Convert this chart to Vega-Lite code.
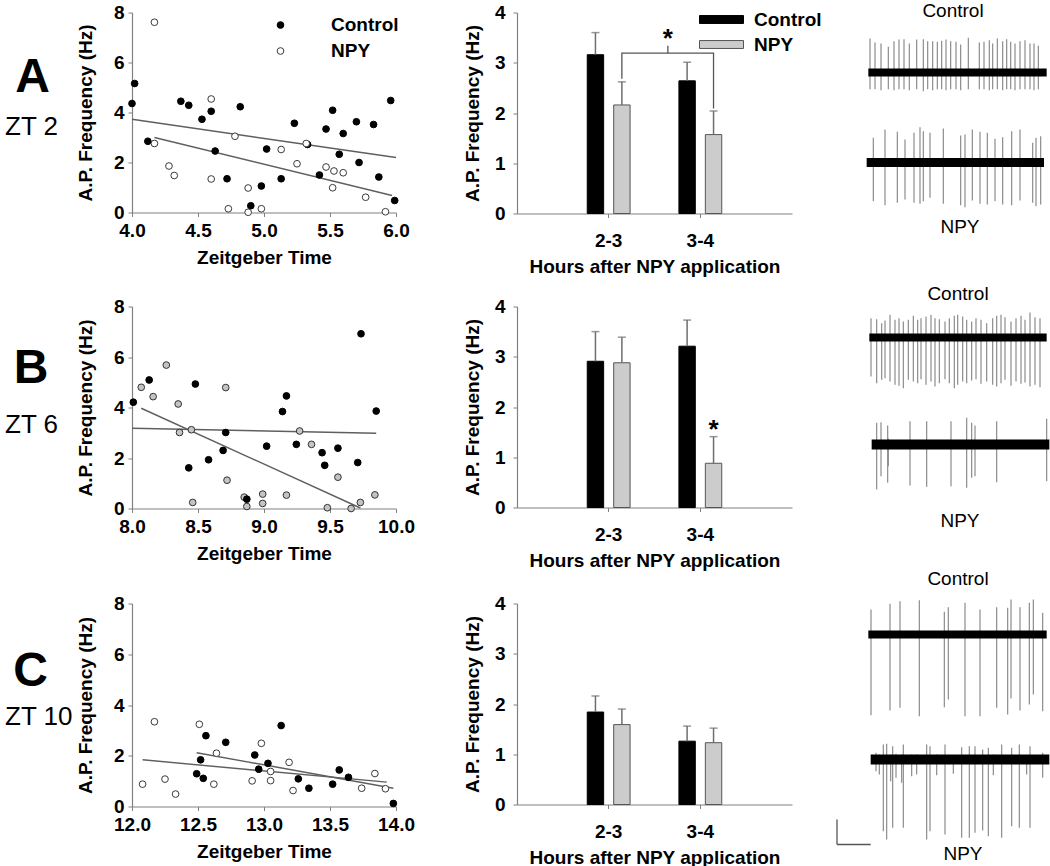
{
"$schema":"https://vega.github.io/schema/vega-lite/v6.json",
"background":"white",
"padding":{"left":5,"top":1.5,"right":0,"bottom":0},
"config":{"font":"Liberation Sans","view":{"stroke":null},
"axis":{"domainColor":"#808080","tickColor":"#808080","tickSize":4,"domainWidth":1.2,"labelFontSize":19,"titleFontSize":19,"labelFontWeight":"bold","titleFontWeight":"bold","labelColor":"#000","titleColor":"#000","grid":false,"labelFlush":false,"labelOverlap":false},
"legend":{"labelFontSize":19,"labelFontWeight":"bold","labelColor":"#000"}},
"datasets":{
"scA":[{"t":4.00,"f":4.36,"g":"Control"},{"t":4.02,"f":5.16,"g":"Control"},{"t":4.12,"f":2.85,"g":"Control"},{"t":4.37,"f":4.45,"g":"Control"},{"t":4.43,"f":4.29,"g":"Control"},{"t":4.53,"f":3.73,"g":"Control"},{"t":4.60,"f":4.05,"g":"Control"},{"t":4.63,"f":2.46,"g":"Control"},{"t":4.72,"f":1.35,"g":"Control"},{"t":4.82,"f":4.23,"g":"Control"},{"t":4.90,"f":0.27,"g":"Control"},{"t":4.98,"f":1.06,"g":"Control"},{"t":5.02,"f":2.54,"g":"Control"},{"t":5.13,"f":1.35,"g":"Control"},{"t":5.23,"f":3.57,"g":"Control"},{"t":5.33,"f":2.72,"g":"Control"},{"t":5.42,"f":1.50,"g":"Control"},{"t":5.47,"f":3.34,"g":"Control"},{"t":5.52,"f":4.09,"g":"Control"},{"t":5.57,"f":2.33,"g":"Control"},{"t":5.60,"f":3.16,"g":"Control"},{"t":5.70,"f":3.63,"g":"Control"},{"t":5.72,"f":2.00,"g":"Control"},{"t":5.83,"f":3.52,"g":"Control"},{"t":5.87,"f":1.42,"g":"Control"},{"t":5.96,"f":4.48,"g":"Control"},{"t":5.99,"f":0.48,"g":"Control"},
{"t":4.17,"f":7.61,"g":"NPY"},{"t":4.17,"f":2.76,"g":"NPY"},{"t":4.28,"f":1.86,"g":"NPY"},{"t":4.32,"f":1.48,"g":"NPY"},{"t":4.60,"f":4.54,"g":"NPY"},{"t":4.60,"f":1.34,"g":"NPY"},{"t":4.73,"f":0.15,"g":"NPY"},{"t":4.78,"f":3.05,"g":"NPY"},{"t":4.88,"f":0.98,"g":"NPY"},{"t":4.88,"f":0.01,"g":"NPY"},{"t":4.98,"f":0.15,"g":"NPY"},{"t":5.13,"f":2.52,"g":"NPY"},{"t":5.25,"f":1.95,"g":"NPY"},{"t":5.32,"f":2.76,"g":"NPY"},{"t":5.47,"f":1.82,"g":"NPY"},{"t":5.53,"f":1.66,"g":"NPY"},{"t":5.60,"f":1.59,"g":"NPY"},{"t":5.52,"f":0.99,"g":"NPY"},{"t":5.77,"f":0.61,"g":"NPY"},{"t":5.92,"f":0.03,"g":"NPY"}],
"lnA":[{"t":4.0,"f":3.73,"g":"Control"},{"t":6.0,"f":2.2,"g":"Control"},{"t":4.17,"f":3.0,"g":"NPY"},{"t":5.97,"f":0.68,"g":"NPY"}],
"scB":[{"t":8.01,"f":4.21,"g":"Control"},{"t":8.13,"f":5.09,"g":"Control"},{"t":8.43,"f":1.61,"g":"Control"},{"t":8.48,"f":4.93,"g":"Control"},{"t":8.58,"f":1.93,"g":"Control"},{"t":8.69,"f":2.30,"g":"Control"},{"t":8.71,"f":3.01,"g":"Control"},{"t":9.02,"f":2.47,"g":"Control"},{"t":9.14,"f":3.84,"g":"Control"},{"t":9.17,"f":4.46,"g":"Control"},{"t":9.245,"f":2.54,"g":"Control"},{"t":9.44,"f":2.21,"g":"Control"},{"t":9.46,"f":1.71,"g":"Control"},{"t":9.56,"f":2.39,"g":"Control"},{"t":9.71,"f":1.82,"g":"Control"},{"t":9.735,"f":6.92,"g":"Control"},{"t":9.85,"f":3.86,"g":"Control"},
{"t":8.07,"f":4.80,"g":"NPY"},{"t":8.16,"f":4.43,"g":"NPY"},{"t":8.26,"f":5.68,"g":"NPY"},{"t":8.35,"f":4.14,"g":"NPY"},{"t":8.36,"f":3.01,"g":"NPY"},{"t":8.45,"f":3.12,"g":"NPY"},{"t":8.46,"f":0.24,"g":"NPY"},{"t":8.71,"f":4.79,"g":"NPY"},{"t":8.72,"f":1.12,"g":"NPY"},{"t":8.85,"f":0.45,"g":"NPY"},{"t":8.87,"f":0.08,"g":"NPY"},{"t":8.99,"f":0.57,"g":"NPY"},{"t":8.99,"f":0.20,"g":"NPY"},{"t":9.17,"f":0.53,"g":"NPY"},{"t":9.27,"f":3.07,"g":"NPY"},{"t":9.36,"f":2.54,"g":"NPY"},{"t":9.48,"f":0.03,"g":"NPY"},{"t":9.56,"f":1.24,"g":"NPY"},{"t":9.66,"f":0.0,"g":"NPY"},{"t":9.73,"f":0.24,"g":"NPY"},{"t":9.84,"f":0.54,"g":"NPY"},{"t":8.87,"f":0.37,"g":"Control"}],
"lnB":[{"t":8.0,"f":3.18,"g":"Control"},{"t":9.85,"f":2.98,"g":"Control"},{"t":8.07,"f":3.97,"g":"NPY"},{"t":9.73,"f":0.02,"g":"NPY"}],
"scC":[{"t":12.49,"f":1.29,"g":"Control"},{"t":12.52,"f":1.84,"g":"Control"},{"t":12.54,"f":1.11,"g":"Control"},{"t":12.56,"f":2.79,"g":"Control"},{"t":12.71,"f":2.53,"g":"Control"},{"t":12.93,"f":2.03,"g":"Control"},{"t":12.96,"f":1.47,"g":"Control"},{"t":13.03,"f":1.70,"g":"Control"},{"t":13.13,"f":3.19,"g":"Control"},{"t":13.26,"f":1.09,"g":"Control"},{"t":13.34,"f":0.72,"g":"Control"},{"t":13.52,"f":0.88,"g":"Control"},{"t":13.57,"f":1.44,"g":"Control"},{"t":13.64,"f":1.15,"g":"Control"},{"t":13.98,"f":0.12,"g":"Control"},
{"t":12.08,"f":0.88,"g":"NPY"},{"t":12.17,"f":3.34,"g":"NPY"},{"t":12.25,"f":1.08,"g":"NPY"},{"t":12.33,"f":0.49,"g":"NPY"},{"t":12.51,"f":3.24,"g":"NPY"},{"t":12.62,"f":0.88,"g":"NPY"},{"t":12.64,"f":2.10,"g":"NPY"},{"t":12.91,"f":1.01,"g":"NPY"},{"t":12.98,"f":2.49,"g":"NPY"},{"t":13.05,"f":1.38,"g":"NPY"},{"t":13.05,"f":1.02,"g":"NPY"},{"t":13.19,"f":1.74,"g":"NPY"},{"t":13.22,"f":0.63,"g":"NPY"},{"t":13.74,"f":0.72,"g":"NPY"},{"t":13.84,"f":1.30,"g":"NPY"},{"t":13.92,"f":0.70,"g":"NPY"}],
"lnC":[{"t":12.49,"f":2.12,"g":"Control"},{"t":13.98,"f":0.72,"g":"Control"},{"t":12.08,"f":1.84,"g":"NPY"},{"t":13.93,"f":0.96,"g":"NPY"}],
"barA":[{"h":"2-3","g":"Control","m":3.16,"hi":3.60},{"h":"2-3","g":"NPY","m":2.16,"hi":2.62},{"h":"3-4","g":"Control","m":2.64,"hi":3.01},{"h":"3-4","g":"NPY","m":1.57,"hi":2.04}],
"barB":[{"h":"2-3","g":"Control","m":2.91,"hi":3.50},{"h":"2-3","g":"NPY","m":2.88,"hi":3.39},{"h":"3-4","g":"Control","m":3.21,"hi":3.73},{"h":"3-4","g":"NPY","m":0.88,"hi":1.41}],
"barC":[{"h":"2-3","g":"Control","m":1.84,"hi":2.16},{"h":"2-3","g":"NPY","m":1.59,"hi":1.90},{"h":"3-4","g":"Control","m":1.26,"hi":1.56},{"h":"3-4","g":"NPY","m":1.23,"hi":1.52}],
"brA":[{"h":"2-3","y":2.68,"o":1},{"h":"2-3","y":3.19,"o":2},{"h":"3-4","y":3.19,"o":3},{"h":"3-4","y":2.09,"o":4}],
"tAc":[{"t":150,"top":34,"bot":-16.7},{"t":165,"top":30,"bot":-16.7},{"t":183,"top":29,"bot":-17.7},{"t":205,"top":25.7,"bot":-16.7},{"t":222,"top":31.3,"bot":-17.7},{"t":237,"top":33,"bot":-16.7},{"t":252,"top":33.3,"bot":-16.7},{"t":268,"top":29,"bot":-17.7},{"t":290,"top":33,"bot":-16.7},{"t":310,"top":33.3,"bot":-18.7},{"t":323,"top":31.3,"bot":-16.7},{"t":338,"top":31.3,"bot":-17.7},{"t":352,"top":30.7,"bot":-16.7},{"t":365,"top":31.7,"bot":-16.7},{"t":378,"top":33,"bot":-17.7},{"t":392,"top":31.3,"bot":-16.7},{"t":408,"top":30.7,"bot":-16.7},{"t":422,"top":28,"bot":-17.7},{"t":445,"top":34.7,"bot":-16.7},{"t":478,"top":30,"bot":-16.7},{"t":492,"top":30.7,"bot":-16.7},{"t":508,"top":32.3,"bot":-17.7},{"t":518,"top":29,"bot":-16.7},{"t":532,"top":34,"bot":-16.7},{"t":548,"top":31.3,"bot":-17.7},{"t":560,"top":33.3,"bot":-16.7},{"t":572,"top":30.7,"bot":-16.7},{"t":585,"top":29,"bot":-17.7},{"t":600,"top":31.3,"bot":-16.7},{"t":615,"top":32.3,"bot":-16.7},{"t":630,"top":29,"bot":-16.7},{"t":642,"top":29,"bot":-17.7},{"t":655,"top":26.7,"bot":-16.7}],
"tAn":[{"t":160,"top":24.7,"bot":-38.7},{"t":195,"top":33,"bot":-42.7},{"t":232,"top":30.7,"bot":-40.3},{"t":255,"top":23,"bot":-37},{"t":282,"top":29.7,"bot":-40.3},{"t":300,"top":35.3,"bot":-41.3},{"t":310,"top":31.3,"bot":-38.7},{"t":330,"top":29.7,"bot":-35.3},{"t":370,"top":34,"bot":-41.3},{"t":422,"top":27,"bot":-42.7},{"t":435,"top":28,"bot":-44.7},{"t":457,"top":33,"bot":-38},{"t":480,"top":30.7,"bot":-41.3},{"t":502,"top":29.7,"bot":-42},{"t":525,"top":23.7,"bot":-38.7},{"t":548,"top":25.3,"bot":-42},{"t":575,"top":31.3,"bot":-42.7},{"t":600,"top":33,"bot":-38},{"t":638,"top":19.7,"bot":-40.3},{"t":648,"top":24.7,"bot":-43.7},{"t":662,"top":26.3,"bot":-42}],
"tBc":[{"t":153,"top":19.3,"bot":-39},{"t":170,"top":18.3,"bot":-45.7},{"t":185,"top":14.3,"bot":-42.3},{"t":195,"top":17,"bot":-40.7},{"t":210,"top":22.7,"bot":-44},{"t":225,"top":17.7,"bot":-47.3},{"t":237,"top":19.3,"bot":-48.3},{"t":250,"top":16,"bot":-50.7},{"t":265,"top":17.7,"bot":-42.3},{"t":280,"top":21.7,"bot":-44},{"t":293,"top":17.7,"bot":-45.7},{"t":303,"top":19.3,"bot":-41.7},{"t":318,"top":21,"bot":-47.3},{"t":333,"top":22.7,"bot":-44},{"t":345,"top":19.3,"bot":-49},{"t":358,"top":18.3,"bot":-45.7},{"t":375,"top":16,"bot":-41.7},{"t":388,"top":19.3,"bot":-45.7},{"t":403,"top":21.7,"bot":-50.7},{"t":413,"top":22.7,"bot":-47.3},{"t":428,"top":21,"bot":-44},{"t":440,"top":17.7,"bot":-45.7},{"t":455,"top":16,"bot":-43},{"t":468,"top":19.3,"bot":-41.7},{"t":483,"top":17.7,"bot":-46.3},{"t":500,"top":14.3,"bot":-44},{"t":518,"top":19.3,"bot":-47.3},{"t":530,"top":21.7,"bot":-49},{"t":543,"top":22.7,"bot":-45.7},{"t":555,"top":20.3,"bot":-42.3},{"t":573,"top":16,"bot":-48.3},{"t":588,"top":19.3,"bot":-44},{"t":603,"top":21.7,"bot":-46.3},{"t":615,"top":17.7,"bot":-45},{"t":630,"top":25,"bot":-49},{"t":645,"top":20.3,"bot":-47.3},{"t":660,"top":19.3,"bot":-49.7}],
"tBn":[{"t":170,"top":21.7,"bot":-45},{"t":183,"top":22.3,"bot":-31.7},{"t":203,"top":19,"bot":-38.3},{"t":205,"top":6,"bot":-21.7},{"t":270,"top":23.3,"bot":-41},{"t":320,"top":23.3,"bot":-42.3},{"t":393,"top":23.3,"bot":-41.7},{"t":440,"top":26.7,"bot":-43.3},{"t":455,"top":21.7,"bot":-33.3},{"t":465,"top":19,"bot":-31.7},{"t":530,"top":23.3,"bot":-37.7},{"t":680,"top":25.7,"bot":-36.7}],
"tCc":[{"t":153,"top":25,"bot":-80.7},{"t":210,"top":30.7,"bot":-76},{"t":240,"top":33.3,"bot":-73.3},{"t":298,"top":34.3,"bot":-81.7},{"t":373,"top":22.7,"bot":-72.7},{"t":385,"top":27.3,"bot":-65},{"t":435,"top":31.7,"bot":-81.7},{"t":480,"top":25,"bot":-81.7},{"t":530,"top":27.3,"bot":-73.3},{"t":563,"top":26.7,"bot":-80},{"t":573,"top":35,"bot":-64},{"t":600,"top":27.3,"bot":-76},{"t":628,"top":31.7,"bot":-70},{"t":640,"top":35,"bot":-60},{"t":668,"top":21.7,"bot":-76.7}],
"tCn":[{"t":168,"top":6.7,"bot":-11.7},{"t":190,"top":15,"bot":-71.7},{"t":200,"top":15.7,"bot":-80},{"t":218,"top":13.3,"bot":-68.3},{"t":250,"top":15,"bot":-68.3},{"t":320,"top":15,"bot":-80},{"t":330,"top":13.3,"bot":-71.7},{"t":375,"top":15,"bot":-75},{"t":425,"top":12.3,"bot":-78.3},{"t":448,"top":13.3,"bot":-78.3},{"t":465,"top":13.3,"bot":-73.3},{"t":488,"top":10,"bot":-71},{"t":505,"top":11.7,"bot":-76.7},{"t":545,"top":15,"bot":-78.3},{"t":575,"top":11.7,"bot":-66.7},{"t":598,"top":15,"bot":-68.3},{"t":630,"top":13.3,"bot":-68.3},{"t":668,"top":6.7,"bot":-18.3},{"t":178,"top":5,"bot":-15},{"t":212,"top":5,"bot":-21.7},{"t":228,"top":5.7,"bot":-18.3},{"t":245,"top":5,"bot":-23.3},{"t":275,"top":5,"bot":-16.7},{"t":290,"top":5,"bot":-15},{"t":350,"top":5,"bot":-15.7},{"t":400,"top":4.3,"bot":-14.3},{"t":520,"top":5,"bot":-15.7},{"t":620,"top":4.3,"bot":-15}]
},
"columns":4,"bounds":"flush","align":"each","spacing":{"row":93,"column":28},
"resolve":{"scale":{"fill":"independent","stroke":"independent","xOffset":"independent"},"legend":{"fill":"independent","stroke":"independent"}},
"concat":[
 {"width":264,"height":200,
  "layer":[
   {"data":{"name":"lnA"},"mark":{"type":"line","color":"#5f5f5f","strokeWidth":1.4},"encoding":{"x":{"field":"t","type":"quantitative","scale":{"domain":[4,6],"nice":false,"zero":false}},"y":{"field":"f","type":"quantitative","scale":{"domain":[0,8],"nice":false}},"detail":{"field":"g","type":"nominal"}}},
   {"data":{"name":"scA"},"mark":{"type":"circle","size":45,"strokeWidth":1,"opacity":1},
    "encoding":{"x":{"field":"t","type":"quantitative","scale":{"domain":[4,6],"nice":false,"zero":false},"axis":{"title":"Zeitgeber Time","values":[4,4.5,5,5.5,6],"format":".1f","labelPadding":5,"titlePadding":8}},
     "y":{"field":"f","type":"quantitative","scale":{"domain":[0,8],"nice":false},"axis":{"title":"A.P. Frequency (Hz)","values":[0,2,4,6,8],"format":"d","labelPadding":4,"titlePadding":18}},
     "fill":{"field":"g","type":"nominal","scale":{"domain":["Control","NPY"],"range":["#000000","#ffffff"]},"legend":{"title":null,"orient":"none","legendX":139,"legendY":3,"symbolType":"circle","symbolSize":45,"symbolStrokeWidth":1,"labelOffset":41,"rowPadding":6,"padding":0}},
     "stroke":{"field":"g","type":"nominal","scale":{"domain":["Control","NPY"],"range":["#000000","#3a3a3a"]},"legend":{"title":null,"orient":"none","legendX":139,"legendY":3,"symbolType":"circle","symbolSize":45,"symbolStrokeWidth":1,"labelOffset":41,"rowPadding":6,"padding":0}}}},
   {"data":{"values":[{"s":"A"}]},"mark":{"type":"text","fontSize":48,"fontWeight":"bold","align":"center","baseline":"middle"},"encoding":{"x":{"datum":3.246},"y":{"datum":5.4},"text":{"field":"s"}}},
   {"data":{"values":[{"s":"ZT 2"}]},"mark":{"type":"text","fontSize":26,"align":"left","baseline":"middle"},"encoding":{"x":{"datum":3.038},"y":{"datum":3.44},"text":{"field":"s"}}}
  ]},
 {"width":65,"height":1,"data":{"values":[{}]},"mark":{"type":"point","opacity":0},"encoding":{}},
 {"width":275,"height":201,"data":{"name":"barA"},
  "layer":[
   {"mark":{"type":"bar","strokeWidth":1},"encoding":{"x":{"field":"h","type":"nominal","scale":{"domain":["2-3","3-4"],"paddingInner":0.4,"paddingOuter":0.7},"axis":{"title":"Hours after NPY application","labelAngle":0,"labelPadding":14,"titlePadding":7}},
     "y":{"field":"m","type":"quantitative","scale":{"domain":[0,4],"nice":false},"axis":{"title":"A.P. Frequency (Hz)","values":[0,1,2,3,4],"format":"d","labelPadding":8,"titlePadding":12}},
     "xOffset":{"field":"g","type":"nominal","scale":{"domain":["Control","NPY"],"paddingInner":0.38,"paddingOuter":0.23}},
     "fill":{"field":"g","type":"nominal","scale":{"domain":["Control","NPY"],"range":["#000000","#cccccc"]},"legend":{"title":null,"orient":"none","legendX":182,"legendY":-5.5,"symbolType":"M-1,-0.18H1V0.18H-1Z","symbolSize":1936,"symbolStrokeWidth":1,"labelOffset":10,"rowPadding":0,"clipHeight":25,"padding":0}},
     "stroke":{"field":"g","type":"nominal","scale":{"domain":["Control","NPY"],"range":["#000000","#555555"]},"legend":{"title":null,"orient":"none","legendX":182,"legendY":-5.5,"symbolType":"M-1,-0.18H1V0.18H-1Z","symbolSize":1936,"symbolStrokeWidth":1,"labelOffset":10,"rowPadding":0,"clipHeight":25,"padding":0}}}},
   {"mark":{"type":"rule","color":"#6e6e6e","strokeWidth":1.5},"encoding":{"x":{"field":"h","type":"nominal"},"xOffset":{"field":"g","type":"nominal"},"y":{"field":"m","type":"quantitative"},"y2":{"field":"hi"}}},
   {"mark":{"type":"tick","color":"#6e6e6e","thickness":1.5,"size":8},"encoding":{"x":{"field":"h","type":"nominal"},"xOffset":{"field":"g","type":"nominal"},"y":{"field":"hi","type":"quantitative"}}},
   {"data":{"name":"brA"},"mark":{"type":"line","color":"#555555","strokeWidth":1.3},"encoding":{"x":{"field":"h","type":"nominal","bandPosition":0.74},"y":{"field":"y","type":"quantitative"},"order":{"field":"o","type":"quantitative"}}},
   {"data":{"values":[{}]},"mark":{"type":"rule","color":"#555555","strokeWidth":1.3},"encoding":{"x":{"datum":"3-4","bandPosition":-0.09},"y":{"datum":3.19},"y2":{"datum":3.34}}},
   {"data":{"values":[{"s":"*"}]},"mark":{"type":"text","fontSize":26,"fontWeight":"bold","align":"center","baseline":"middle","dy":3},"encoding":{"x":{"datum":"3-4","bandPosition":-0.09},"y":{"datum":3.53},"text":{"field":"s"}}}
  ]},
 {"width":230,"height":201,"resolve":{"scale":{"y":"independent"}},
  "layer":[
   {"layer":[
     {"data":{"name":"tAc"},"mark":{"type":"rule","color":"#8c8c8c","strokeWidth":1.2},"encoding":{"x":{"field":"t","type":"quantitative","scale":{"domain":[0,690],"nice":false,"zero":false},"axis":null},"y":{"field":"top","type":"quantitative","scale":{"domain":[-141,60],"nice":false,"zero":false},"axis":null},"y2":{"field":"bot"}}},
     {"data":{"values":[{"t":145,"t1":680}]},"mark":{"type":"rule","color":"#000000","strokeWidth":8,"strokeCap":"butt"},"encoding":{"x":{"field":"t","type":"quantitative","axis":null},"x2":{"field":"t1"},"y":{"datum":0,"axis":null}}},
     {"data":{"values":[{"s":"Control"}]},"mark":{"type":"text","fontSize":19,"baseline":"middle","align":"center"},"encoding":{"x":{"datum":399,"axis":null},"y":{"datum":62,"axis":null},"text":{"field":"s"}}}
   ]},
   {"layer":[
     {"data":{"name":"tAn"},"mark":{"type":"rule","color":"#8c8c8c","strokeWidth":1.2},"encoding":{"x":{"field":"t","type":"quantitative","axis":null},"y":{"field":"top","type":"quantitative","scale":{"domain":[-51,150],"nice":false,"zero":false},"axis":null},"y2":{"field":"bot"}}},
     {"data":{"values":[{"t":140,"t1":672}]},"mark":{"type":"rule","color":"#000000","strokeWidth":9,"strokeCap":"butt"},"encoding":{"x":{"field":"t","type":"quantitative","axis":null},"x2":{"field":"t1"},"y":{"datum":0,"axis":null}}},
     {"data":{"values":[{"s":"NPY"}]},"mark":{"type":"text","fontSize":19,"baseline":"middle","align":"center"},"encoding":{"x":{"datum":420,"axis":null},"y":{"datum":-64,"axis":null},"text":{"field":"s"}}}
   ]}
  ]},
 {"width":264,"height":202,
  "layer":[
   {"data":{"name":"lnB"},"mark":{"type":"line","color":"#5f5f5f","strokeWidth":1.4},"encoding":{"x":{"field":"t","type":"quantitative","scale":{"domain":[8,10],"nice":false,"zero":false}},"y":{"field":"f","type":"quantitative","scale":{"domain":[0,8],"nice":false}},"detail":{"field":"g","type":"nominal"}}},
   {"data":{"name":"scB"},"mark":{"type":"circle","size":45,"strokeWidth":1,"opacity":1},
    "encoding":{"x":{"field":"t","type":"quantitative","scale":{"domain":[8,10],"nice":false,"zero":false},"axis":{"title":"Zeitgeber Time","values":[8,8.5,9,9.5,10],"format":".1f","labelPadding":5,"titlePadding":8}},
     "y":{"field":"f","type":"quantitative","scale":{"domain":[0,8],"nice":false},"axis":{"title":"A.P. Frequency (Hz)","values":[0,2,4,6,8],"format":"d","labelPadding":4,"titlePadding":18}},
     "fill":{"field":"g","type":"nominal","scale":{"domain":["Control","NPY"],"range":["#000000","#c4c4c4"]},"legend":null},
     "stroke":{"field":"g","type":"nominal","scale":{"domain":["Control","NPY"],"range":["#000000","#333333"]},"legend":null}}},
   {"data":{"values":[{"s":"B"}]},"mark":{"type":"text","fontSize":48,"fontWeight":"bold","align":"center","baseline":"middle"},"encoding":{"x":{"datum":7.235},"y":{"datum":5.54},"text":{"field":"s"}}},
   {"data":{"values":[{"s":"ZT 6"}]},"mark":{"type":"text","fontSize":26,"align":"left","baseline":"middle"},"encoding":{"x":{"datum":7.038},"y":{"datum":3.29},"text":{"field":"s"}}}
  ]},
 {"width":65,"height":1,"data":{"values":[{}]},"mark":{"type":"point","opacity":0},"encoding":{}},
 {"width":275,"height":201,"data":{"name":"barB"},
  "layer":[
   {"mark":{"type":"bar","strokeWidth":1},"encoding":{"x":{"field":"h","type":"nominal","scale":{"domain":["2-3","3-4"],"paddingInner":0.4,"paddingOuter":0.7},"axis":{"title":"Hours after NPY application","labelAngle":0,"labelPadding":14,"titlePadding":7}},
     "y":{"field":"m","type":"quantitative","scale":{"domain":[0,4],"nice":false},"axis":{"title":"A.P. Frequency (Hz)","values":[0,1,2,3,4],"format":"d","labelPadding":8,"titlePadding":12}},
     "xOffset":{"field":"g","type":"nominal","scale":{"domain":["Control","NPY"],"paddingInner":0.38,"paddingOuter":0.23}},
     "fill":{"field":"g","type":"nominal","scale":{"domain":["Control","NPY"],"range":["#000000","#cccccc"]},"legend":null},
     "stroke":{"field":"g","type":"nominal","scale":{"domain":["Control","NPY"],"range":["#000000","#555555"]},"legend":null}}},
   {"mark":{"type":"rule","color":"#6e6e6e","strokeWidth":1.5},"encoding":{"x":{"field":"h","type":"nominal"},"xOffset":{"field":"g","type":"nominal"},"y":{"field":"m","type":"quantitative"},"y2":{"field":"hi"}}},
   {"mark":{"type":"tick","color":"#6e6e6e","thickness":1.5,"size":8},"encoding":{"x":{"field":"h","type":"nominal"},"xOffset":{"field":"g","type":"nominal"},"y":{"field":"hi","type":"quantitative"}}},
   {"data":{"values":[{"s":"*"}]},"mark":{"type":"text","fontSize":26,"fontWeight":"bold","align":"center","baseline":"middle","dy":5},"encoding":{"x":{"datum":"3-4","bandPosition":0.74},"y":{"datum":1.65},"text":{"field":"s"}}}
  ]},
 {"width":230,"height":204,"resolve":{"scale":{"y":"independent"}},
  "layer":[
   {"layer":[
     {"data":{"name":"tBc"},"mark":{"type":"rule","color":"#8c8c8c","strokeWidth":1.2},"encoding":{"x":{"field":"t","type":"quantitative","scale":{"domain":[0,690],"nice":false,"zero":false},"axis":null},"y":{"field":"top","type":"quantitative","scale":{"domain":[-173,31],"nice":false,"zero":false},"axis":null},"y2":{"field":"bot"}}},
     {"data":{"values":[{"t":148,"t1":680}]},"mark":{"type":"rule","color":"#000000","strokeWidth":8,"strokeCap":"butt"},"encoding":{"x":{"field":"t","type":"quantitative","axis":null},"x2":{"field":"t1"},"y":{"datum":0,"axis":null}}},
     {"data":{"values":[{"s":"Control"}]},"mark":{"type":"text","fontSize":19,"baseline":"middle","align":"center"},"encoding":{"x":{"datum":414,"axis":null},"y":{"datum":44,"axis":null},"text":{"field":"s"}}}
   ]},
   {"layer":[
     {"data":{"name":"tBn"},"mark":{"type":"rule","color":"#8c8c8c","strokeWidth":1.2},"encoding":{"x":{"field":"t","type":"quantitative","axis":null},"y":{"field":"top","type":"quantitative","scale":{"domain":[-66,138],"nice":false,"zero":false},"axis":null},"y2":{"field":"bot"}}},
     {"data":{"values":[{"t":155,"t1":688}]},"mark":{"type":"rule","color":"#000000","strokeWidth":10,"strokeCap":"butt"},"encoding":{"x":{"field":"t","type":"quantitative","axis":null},"x2":{"field":"t1"},"y":{"datum":0,"axis":null}}},
     {"data":{"values":[{"s":"NPY"}]},"mark":{"type":"text","fontSize":19,"baseline":"middle","align":"center"},"encoding":{"x":{"datum":420,"axis":null},"y":{"datum":-76,"axis":null},"text":{"field":"s"}}}
   ]}
  ]},
 {"width":264,"height":203,
  "layer":[
   {"data":{"name":"lnC"},"mark":{"type":"line","color":"#5f5f5f","strokeWidth":1.4},"encoding":{"x":{"field":"t","type":"quantitative","scale":{"domain":[12,14],"nice":false,"zero":false}},"y":{"field":"f","type":"quantitative","scale":{"domain":[0,8],"nice":false}},"detail":{"field":"g","type":"nominal"}}},
   {"data":{"name":"scC"},"mark":{"type":"circle","size":45,"strokeWidth":1,"opacity":1},
    "encoding":{"x":{"field":"t","type":"quantitative","scale":{"domain":[12,14],"nice":false,"zero":false},"axis":{"title":"Zeitgeber Time","values":[12,12.5,13,13.5,14],"format":".1f","labelPadding":5,"titlePadding":8}},
     "y":{"field":"f","type":"quantitative","scale":{"domain":[0,8],"nice":false},"axis":{"title":"A.P. Frequency (Hz)","values":[0,2,4,6,8],"format":"d","labelPadding":4,"titlePadding":18}},
     "fill":{"field":"g","type":"nominal","scale":{"domain":["Control","NPY"],"range":["#000000","#ffffff"]},"legend":null},
     "stroke":{"field":"g","type":"nominal","scale":{"domain":["Control","NPY"],"range":["#000000","#3a3a3a"]},"legend":null}}},
   {"data":{"values":[{"s":"C"}]},"mark":{"type":"text","fontSize":48,"fontWeight":"bold","align":"center","baseline":"middle"},"encoding":{"x":{"datum":11.231},"y":{"datum":5.32},"text":{"field":"s"}}},
   {"data":{"values":[{"s":"ZT 10"}]},"mark":{"type":"text","fontSize":26,"align":"left","baseline":"middle"},"encoding":{"x":{"datum":11.038},"y":{"datum":3.51},"text":{"field":"s"}}}
  ]},
 {"width":65,"height":1,"data":{"values":[{}]},"mark":{"type":"point","opacity":0},"encoding":{}},
 {"width":275,"height":201,"data":{"name":"barC"},
  "layer":[
   {"mark":{"type":"bar","strokeWidth":1},"encoding":{"x":{"field":"h","type":"nominal","scale":{"domain":["2-3","3-4"],"paddingInner":0.4,"paddingOuter":0.7},"axis":{"title":"Hours after NPY application","labelAngle":0,"labelPadding":14,"titlePadding":7}},
     "y":{"field":"m","type":"quantitative","scale":{"domain":[0,4],"nice":false},"axis":{"title":"A.P. Frequency (Hz)","values":[0,1,2,3,4],"format":"d","labelPadding":8,"titlePadding":12}},
     "xOffset":{"field":"g","type":"nominal","scale":{"domain":["Control","NPY"],"paddingInner":0.38,"paddingOuter":0.23}},
     "fill":{"field":"g","type":"nominal","scale":{"domain":["Control","NPY"],"range":["#000000","#cccccc"]},"legend":null},
     "stroke":{"field":"g","type":"nominal","scale":{"domain":["Control","NPY"],"range":["#000000","#555555"]},"legend":null}}},
   {"mark":{"type":"rule","color":"#6e6e6e","strokeWidth":1.5},"encoding":{"x":{"field":"h","type":"nominal"},"xOffset":{"field":"g","type":"nominal"},"y":{"field":"m","type":"quantitative"},"y2":{"field":"hi"}}},
   {"mark":{"type":"tick","color":"#6e6e6e","thickness":1.5,"size":8},"encoding":{"x":{"field":"h","type":"nominal"},"xOffset":{"field":"g","type":"nominal"},"y":{"field":"hi","type":"quantitative"}}}
  ]},
 {"width":230,"height":243,"resolve":{"scale":{"y":"independent"}},
  "layer":[
   {"layer":[
     {"data":{"name":"tCc"},"mark":{"type":"rule","color":"#8c8c8c","strokeWidth":1.2},"encoding":{"x":{"field":"t","type":"quantitative","scale":{"domain":[0,690],"nice":false,"zero":false},"axis":null},"y":{"field":"top","type":"quantitative","scale":{"domain":[-212,31],"nice":false,"zero":false},"axis":null},"y2":{"field":"bot"}}},
     {"data":{"values":[{"t":145,"t1":680}]},"mark":{"type":"rule","color":"#000000","strokeWidth":8,"strokeCap":"butt"},"encoding":{"x":{"field":"t","type":"quantitative","axis":null},"x2":{"field":"t1"},"y":{"datum":0,"axis":null}}},
     {"data":{"values":[{"s":"Control"}]},"mark":{"type":"text","fontSize":19,"baseline":"middle","align":"center"},"encoding":{"x":{"datum":414,"axis":null},"y":{"datum":56,"axis":null},"text":{"field":"s"}}}
   ]},
   {"layer":[
     {"data":{"name":"tCn"},"mark":{"type":"rule","color":"#8c8c8c","strokeWidth":1.2},"encoding":{"x":{"field":"t","type":"quantitative","axis":null},"y":{"field":"top","type":"quantitative","scale":{"domain":[-87,156],"nice":false,"zero":false},"axis":null},"y2":{"field":"bot"}}},
     {"data":{"values":[{"t":152,"t1":688}]},"mark":{"type":"rule","color":"#000000","strokeWidth":10,"strokeCap":"butt"},"encoding":{"x":{"field":"t","type":"quantitative","axis":null},"x2":{"field":"t1"},"y":{"datum":0,"axis":null}}},
     {"data":{"values":[{"t":51,"t1":51,"top":-60,"bot":-85},{"t":51,"t1":152,"top":-85,"bot":-85}]},"mark":{"type":"rule","color":"#555555","strokeWidth":1.3},"encoding":{"x":{"field":"t","type":"quantitative","axis":null},"x2":{"field":"t1"},"y":{"field":"top","type":"quantitative","axis":null},"y2":{"field":"bot"}}},
     {"data":{"values":[{"s":"NPY"}]},"mark":{"type":"text","fontSize":19,"baseline":"middle","align":"center"},"encoding":{"x":{"datum":429,"axis":null},"y":{"datum":-94,"axis":null},"text":{"field":"s"}}}
   ]}
  ]}
]
}
